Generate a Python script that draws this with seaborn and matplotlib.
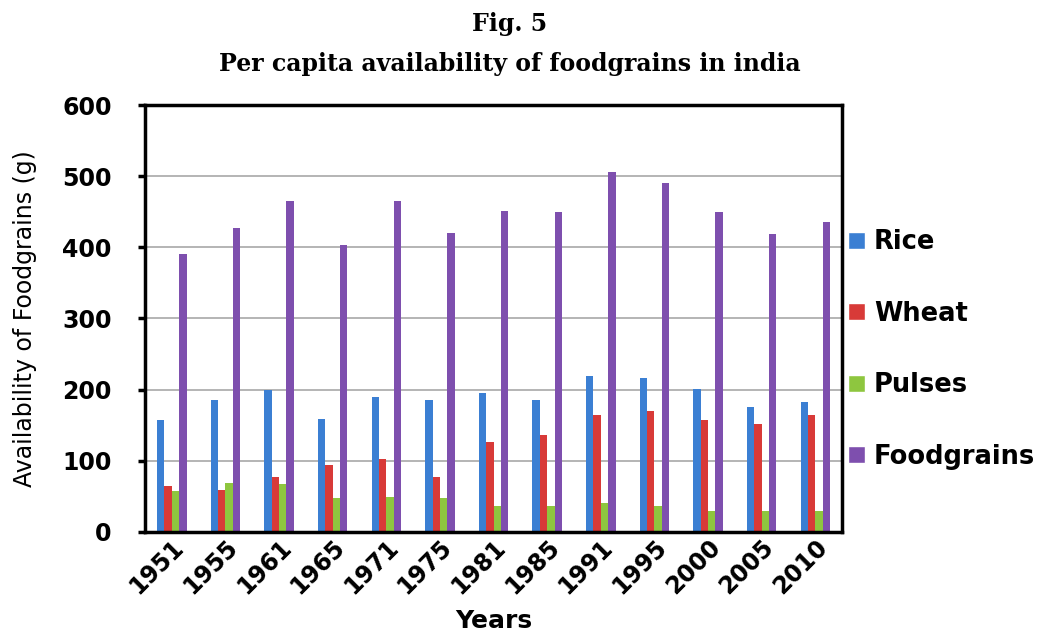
import pandas as pd
import seaborn as sns
import matplotlib.pyplot as plt
from matplotlib.patches import Patch

# values (g per capita per day)
years = ["1951", "1955", "1961", "1965", "1971", "1975", "1981",
         "1985", "1991", "1995", "2000", "2005", "2010"]
rice = [157, 185, 199, 159, 190, 185, 195, 186, 219, 216, 201, 175, 182]
wheat = [64, 59, 77, 94, 102, 77, 127, 136, 164, 170, 158, 152, 165]
pulses = [58, 69, 68, 47, 49, 48, 36, 36, 40, 36, 29, 29, 29]
foodgrains = [391, 427, 465, 404, 465, 420, 451, 450, 506, 491, 450, 419, 435]

series = ["Rice", "Wheat", "Pulses", "Foodgrains"]
colors = ["#3B7FD3", "#D83A38", "#8EC63F", "#7E4FAE"]

df = pd.DataFrame({"Year": years, "Rice": rice, "Wheat": wheat,
                   "Pulses": pulses, "Foodgrains": foodgrains})
long = df.melt(id_vars="Year", var_name="Type", value_name="Value")

sns.set_style("white")
plt.rcParams["font.family"] = ["DejaVu Sans"]
plt.rcParams.update({"text.color": "black", "axes.labelcolor": "black",
                     "xtick.color": "black", "ytick.color": "black"})

fig = plt.figure(figsize=(10.62, 6.37), dpi=100)
ax = fig.add_axes([0.1365, 0.165, 0.6565, 0.67])

sns.barplot(data=long, x="Year", y="Value", hue="Type", hue_order=series,
            palette=colors, width=0.55, gap=0, saturation=1, ax=ax,
            legend=False, edgecolor="none")

ax.set_ylim(0, 600)
ax.set_yticks(range(0, 601, 100))
ax.yaxis.grid(True, color="#a8a8a8", linewidth=1.2)
ax.set_axisbelow(True)
for s in ax.spines.values():
    s.set_color("black")
    s.set_linewidth(2.5)

# ticks at category boundaries, labels at centers
ax.set_xticks([i + 0.5 for i in range(len(years) - 1)], minor=True)
ax.tick_params(axis="x", which="major", length=0, pad=2)
ax.tick_params(axis="x", which="minor", length=6, width=2.5, color="black", direction="out")
ax.tick_params(axis="y", length=5, width=2.5, color="black", direction="out", left=True, pad=19)
ax.set_xticks(range(len(years)))
ax.set_xticklabels(years, rotation=45, ha="right", rotation_mode="anchor",
                   fontsize=17, fontweight="bold")
for lab in ax.get_yticklabels():
    lab.set_fontsize(17)
    lab.set_fontweight("bold")

ax.set_xlabel("Years", fontsize=18, fontweight="bold", labelpad=8)
ax.set_ylabel("Availability of Foodgrains (g)", fontsize=17, labelpad=18)

handles = [Patch(facecolor=c, label=s) for s, c in zip(series, colors)]
fig.legend(handles=handles, loc="upper left", bbox_to_anchor=(0.789, 0.656),
           frameon=False, prop={"size": 18.5, "weight": "bold"},
           handlelength=0.65, handleheight=0.65, handletextpad=0.35,
           labelspacing=1.77, borderaxespad=0)

fig.text(0.48, 0.962, "Fig. 5", ha="center", va="center",
         family="DejaVu Serif", fontweight="bold", fontsize=17)
fig.text(0.48, 0.9, "Per capita availability of foodgrains in india",
         ha="center", va="center", family="DejaVu Serif",
         fontweight="bold", fontsize=17)

plt.savefig("out.png", dpi=100)
